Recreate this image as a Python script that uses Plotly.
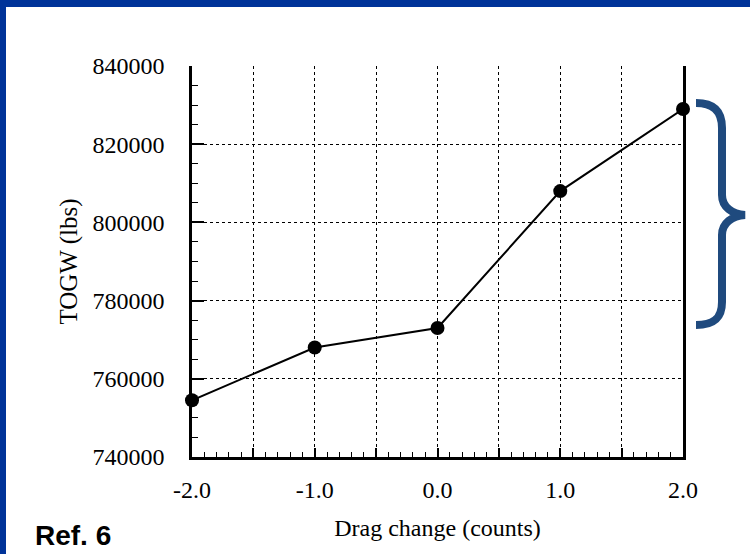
import plotly.graph_objects as go

drag_change = [-2.0, -1.0, 0.0, 1.0, 2.0]
togw_lbs = [754500, 768000, 773000, 808000, 829000]

x_tickvals = [-2.0, -1.5, -1.0, -0.5, 0.0, 0.5, 1.0, 1.5, 2.0]
x_ticktext = ["-2.0", "", "-1.0", "", "0.0", "", "1.0", "", "2.0"]
y_tickvals = [740000, 760000, 780000, 800000, 820000, 840000]
y_ticktext = ["740000", "760000", "780000", "800000", "820000", "840000"]

W, H = 750, 554
L, R, T, B = 192, 683, 66, 457


def px(x):
    return (x - L) / (R - L)


def py(y):
    return (B - y) / (B - T)


fig = go.Figure()
fig.add_trace(go.Scatter(
    x=drag_change, y=togw_lbs, mode="lines+markers",
    line=dict(color="black", width=2),
    marker=dict(color="black", size=14),
    showlegend=False, cliponaxis=False,
))

serif = "Liberation Serif"

fig.update_xaxes(
    range=[-2, 2], tickvals=x_tickvals, ticktext=x_ticktext,
    ticks="inside", ticklen=9, tickwidth=1.5, tickcolor="black",
    showgrid=True, gridcolor="black", griddash="dot", gridwidth=1.3,
    showline=True, linecolor="black", linewidth=2.5,
    zeroline=False,
    minor=dict(dtick=0.1, tick0=0, ticks="inside", ticklen=5, tickwidth=1.2, tickcolor="black", showgrid=False),
    tickfont=dict(family=serif, size=24, color="black"),
    title=dict(text="Drag change (counts)", font=dict(family=serif, size=24, color="black"), standoff=18),
    ticklabelstandoff=9,
)
fig.update_yaxes(
    range=[740000, 840000], tickvals=y_tickvals, ticktext=y_ticktext,
    ticks="inside", ticklen=12, tickwidth=1.5, tickcolor="black",
    showgrid=True, gridcolor="black", griddash="dot", gridwidth=1.3,
    showline=True, linecolor="black", linewidth=2.5, mirror=True,
    zeroline=False,
    minor=dict(dtick=5000, tick0=0, ticks="inside", ticklen=6, tickwidth=1.2, tickcolor="black", showgrid=False),
    tickfont=dict(family=serif, size=24, color="black"),
    title=dict(text="TOGW (lbs)", font=dict(family=serif, size=25, color="black"), standoff=8),
    ticklabelstandoff=20,
)

shapes = []
navy = "#003399"
# frame border (top and left)
shapes.append(dict(type="rect", xref="paper", yref="paper",
                   x0=px(0), x1=px(W), y0=py(7), y1=py(0),
                   fillcolor=navy, line=dict(width=0), layer="above"))
shapes.append(dict(type="rect", xref="paper", yref="paper",
                   x0=px(0), x1=px(6), y0=py(H), y1=py(0),
                   fillcolor=navy, line=dict(width=0), layer="above"))


def P(x, y):
    return f"{px(x):.5f},{py(y):.5f}"


brace = (
    f"M{P(696,103)} C{P(712,103)} {P(722,110)} {P(722,128)} "
    f"L{P(722,195)} C{P(722,207)} {P(732,214)} {P(745,215)} "
    f"C{P(732,216)} {P(722,223)} {P(722,235)} "
    f"L{P(722,302)} C{P(722,320)} {P(712,325)} {P(696,325)}"
)
shapes.append(dict(type="path", xref="paper", yref="paper", path=brace,
                   line=dict(color="#1F4A7E", width=8), layer="above"))

fig.update_layout(
    width=W, height=H,
    margin=dict(l=L, r=W - R, t=T, b=H - B),
    paper_bgcolor="white", plot_bgcolor="white",
    shapes=shapes,
    annotations=[dict(text="<b>Ref. 6</b>", xref="paper", yref="paper",
                      x=px(33), y=py(535), xanchor="left", yanchor="middle",
                      showarrow=False, font=dict(family="Liberation Sans", size=28, color="black"))],
)

fig.write_html("out.html", config={"displayModeBar": False},
               post_script="document.body.style.margin='0';document.body.style.overflow='hidden';")
